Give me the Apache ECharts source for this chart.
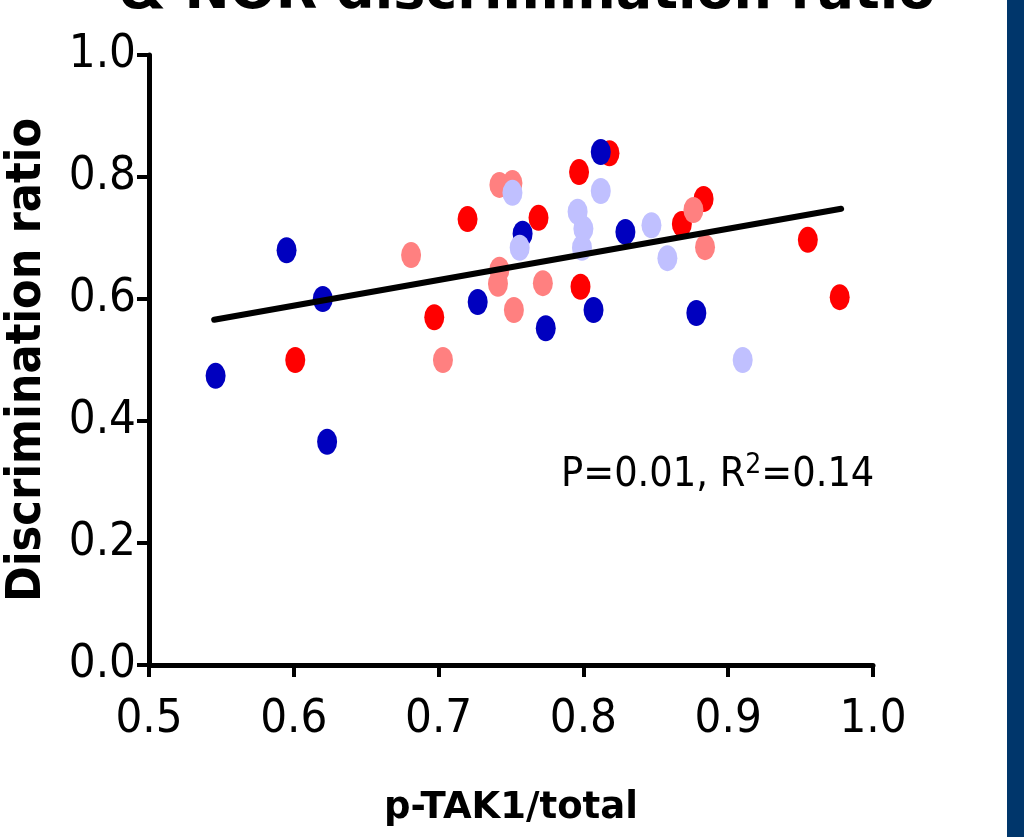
<!DOCTYPE html>
<html>
<head>
<meta charset="utf-8">
<script src="https://cdn.jsdelivr.net/npm/echarts@6/dist/echarts.min.js"></script>
<style>
  html, body { margin: 0; padding: 0; background: #fff; }
  #graph { width: 1024px; height: 837px; }
</style>
</head>
<body>
<div id="graph"></div>
<script>
// values, one group per colour
const redX = [0.601, 0.697, 0.720, 0.769, 0.797, 0.798, 0.818, 0.868, 0.883, 0.955, 0.977];
const redY = [0.500, 0.570, 0.731, 0.733, 0.808, 0.620, 0.839, 0.723, 0.764, 0.697, 0.603];

const blueX = [0.546, 0.595, 0.620, 0.623, 0.727, 0.758, 0.774, 0.807, 0.812, 0.829, 0.878];
const blueY = [0.474, 0.680, 0.600, 0.366, 0.595, 0.707, 0.552, 0.582, 0.841, 0.710, 0.577];

const pinkX = [0.681, 0.703, 0.742, 0.751, 0.742, 0.741, 0.752, 0.772, 0.876, 0.884];
const pinkY = [0.672, 0.500, 0.787, 0.790, 0.648, 0.625, 0.582, 0.626, 0.746, 0.685];

const lilacX = [0.751, 0.756, 0.796, 0.800, 0.799, 0.812, 0.847, 0.858, 0.910];
const lilacY = [0.774, 0.684, 0.743, 0.715, 0.684, 0.777, 0.721, 0.667, 0.500];

// regression line ends
const fitX = [0.545, 0.978];
const fitY = [0.566, 0.748];

const xTickLabels = ['0.5', '0.6', '0.7', '0.8', '0.9', '1.0'];
const yTickLabels = ['0.0', '0.2', '0.4', '0.6', '0.8', '1.0'];

function pairs(xs, ys) {
  return xs.map((x, i) => [x, ys[i]]);
}

// use the condensed face if it is there, else plain DejaVu a bit smaller
const probe = document.createElement('canvas').getContext('2d');
probe.font = '40px "DejaVu Sans Condensed", "Nonexistent Face"';
const wCond = probe.measureText('0.50.50.5').width;
probe.font = '40px "DejaVu Sans"';
const wPlain = probe.measureText('0.50.50.5').width;
const hasCond = wCond < wPlain - 2;
const font = hasCond ? '"DejaVu Sans Condensed", "DejaVu Sans"' : 'DejaVu Sans';
const k = hasCond ? 1 : 0.92;

const ellipse = 'path://M50,0A50,50,0,1,1,50,100A50,50,0,1,1,50,0Z';

function dots(name, xs, ys, color) {
  return {
    name: name,
    type: 'scatter',
    symbol: ellipse,
    symbolSize: [20, 26],
    itemStyle: { color: color, opacity: 1 },
    data: pairs(xs, ys),
    silent: true
  };
}

var chartDom = document.getElementById('graph');
var myChart = echarts.init(chartDom, null, { renderer: 'canvas' });
var option;

option = {
  animation: false,
  grid: {
    left: 149,
    right: 151,
    top: 55,
    bottom: 172,
    outerBoundsMode: 'none'
  },
  xAxis: {
    type: 'value',
    min: 0.5,
    max: 1.0,
    interval: 0.1,
    name: 'p-TAK1/total',
    nameLocation: 'middle',
    nameGap: 125,
    nameTextStyle: { fontSize: 37, fontWeight: 'bold', fontFamily: 'DejaVu Sans', color: '#000' },
    axisLine: { show: true, onZero: false, lineStyle: { color: '#000', width: 5 } },
    axisTick: { show: true, length: 12, lineStyle: { color: '#000', width: 4 } },
    axisLabel: {
      fontSize: Math.round(47 * k),
      fontFamily: font,
      color: '#000',
      margin: 31,
      formatter: (v, i) => xTickLabels[i] !== undefined ? xTickLabels[i] : v.toFixed(1)
    },
    splitLine: { show: false }
  },
  yAxis: {
    type: 'value',
    min: 0,
    max: 1.0,
    interval: 0.2,
    name: 'Discrimination ratio',
    nameLocation: 'middle',
    nameGap: 97,
    nameTextStyle: { fontSize: Math.round(48 * k), fontWeight: 'bold', fontFamily: font, color: '#000' },
    axisLine: { show: true, onZero: false, lineStyle: { color: '#000', width: 5 } },
    axisTick: { show: true, length: 12, lineStyle: { color: '#000', width: 4 } },
    axisLabel: {
      fontSize: Math.round(47 * k),
      fontFamily: font,
      color: '#000',
      margin: 13,
      formatter: (v, i) => yTickLabels[i] !== undefined ? yTickLabels[i] : v.toFixed(1)
    },
    splitLine: { show: false }
  },
  series: [
    dots('red', redX, redY, '#ff0000'),
    dots('blue', blueX, blueY, '#0000bf'),
    dots('pink', pinkX, pinkY, '#ff8080'),
    dots('lilac', lilacX, lilacY, '#c0c0ff'),
    {
      name: 'fit',
      type: 'line',
      data: pairs(fitX, fitY),
      showSymbol: false,
      symbol: 'none',
      lineStyle: { color: '#000', width: 6, cap: 'round' },
      z: 5,
      silent: true
    }
  ],
  graphic: [
    {
      type: 'text',
      x: 527,
      y: -6,
      style: {
        text: '& NOR discrimination ratio',
        font: 'bold 54px "DejaVu Sans"',
        fill: '#000',
        align: 'center',
        verticalAlign: 'middle'
      }
    },
    {
      type: 'text',
      x: 561,
      y: 452,
      style: {
        text: '{a|P=0.01, R}{s|2}{a|=0.14}',
        verticalAlign: 'top',
        rich: {
          a: { fontSize: Math.round(41 * k), fontFamily: font, fill: '#000', lineHeight: 46 },
          s: { fontSize: 28, fontFamily: font, fill: '#000', verticalAlign: 'top', lineHeight: 26 }
        }
      }
    },
    {
      type: 'rect',
      shape: { x: 1007, y: 0, width: 17, height: 837 },
      style: { fill: '#00366b' },
      silent: true
    }
  ]
};

myChart.setOption(option);
</script>
</body>
</html>
